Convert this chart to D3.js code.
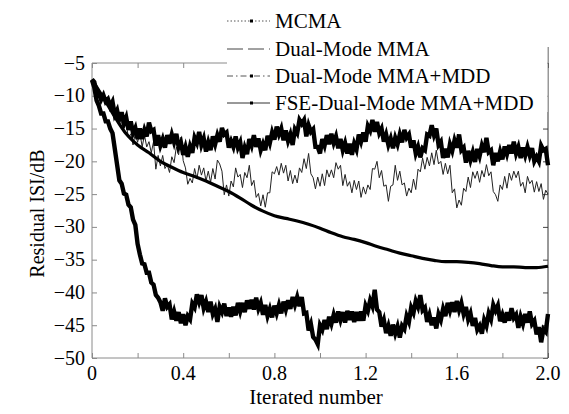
<!DOCTYPE html>
<html><head><meta charset="utf-8">
<script src="https://cdn.jsdelivr.net/npm/d3@7"></script>
<style>
body{margin:0;background:#fff}
svg{display:block}
</style>
</head><body>
<svg id="chart" width="569" height="414"></svg>
<script>
// ---------------- data ----------------
const seriesNames = ["MCMA", "Dual-Mode MMA", "Dual-Mode MMA+MDD", "FSE-Dual-Mode MMA+MDD"];
const xTicks = [0, 0.2, 0.4, 0.6, 0.8, 1.0, 1.2, 1.4, 1.6, 1.8, 2.0];
const xTickLabels = ["0", "", "0.4", "", "0.8", "", "1.2", "", "1.6", "", "2.0"];
const yTicks = [-50, -45, -40, -35, -30, -25, -20, -15, -10, -5];
const yTickLabels = ["\u221250", "\u221245", "\u221240", "\u221235", "\u221230", "\u221225", "\u221220", "\u221215", "\u221210", "\u22125"];
const xTitle = "Iterated number";
const yTitle = "Residual ISI/dB";
const denseStep = 0.01;   // iteration spacing of the noisy curves
const smoothStep = 0.05;  // iteration spacing of the smooth curve

const mcma = [
-7.5,-7.9,-9.6,-9.6,-10.6,-9.9,-10.9,-10.5,-11.6,-10.9,
-12.9,-12.2,-13.9,-12.5,-14.2,-13.3,-15.2,-13.9,-15.7,-14.9,
-16.6,-15.0,-16.6,-15.2,-16.2,-14.1,-15.4,-15.2,-17.6,-16.0,
-17.6,-16.6,-17.9,-16.0,-17.3,-15.9,-17.1,-15.8,-17.8,-17.1,
-19.0,-17.8,-19.3,-17.7,-18.7,-16.4,-17.2,-15.5,-17.5,-16.5,
-18.5,-17.1,-18.3,-16.2,-17.4,-16.0,-17.0,-14.9,-15.9,-15.6,
-17.9,-16.9,-17.8,-16.2,-17.9,-17.1,-19.5,-17.9,-18.9,-16.6,
-17.6,-16.0,-17.8,-16.5,-18.3,-17.3,-18.3,-16.1,-17.2,-15.6,
-16.7,-14.7,-15.9,-15.0,-16.8,-15.3,-16.9,-15.9,-17.5,-15.1,
-15.7,-13.7,-14.3,-13.7,-16.2,-14.5,-15.5,-15.1,-17.8,-17.8,
-18.8,-16.6,-17.6,-16.0,-17.4,-15.8,-17.2,-16.2,-18.0,-16.6,
-18.3,-17.2,-18.8,-17.3,-19.0,-17.3,-18.2,-15.9,-17.0,-15.6,
-17.0,-14.6,-15.3,-13.7,-15.5,-14.0,-15.7,-15.0,-17.0,-15.9,
-17.5,-16.5,-18.0,-16.4,-17.4,-15.9,-17.1,-15.2,-16.4,-15.9,
-17.9,-16.8,-18.8,-17.8,-19.4,-18.0,-18.3,-15.9,-16.1,-14.5,
-16.0,-15.0,-17.5,-17.0,-19.5,-18.1,-19.4,-17.4,-18.4,-16.8,
-17.9,-15.9,-18.3,-17.9,-20.2,-18.4,-19.8,-18.6,-20.1,-18.1,
-19.2,-17.6,-18.6,-16.4,-18.6,-18.3,-20.6,-18.7,-20.0,-18.5,
-19.7,-17.7,-18.9,-17.5,-18.8,-17.0,-18.8,-17.8,-19.5,-17.9,
-19.1,-17.8,-19.1,-18.0,-20.0,-19.3,-20.0,-17.6,-18.3,-18.1,
-20.6
];

const dualMMA = [
-7.8,-8.2,-9.2,-9.3,-10.2,-10.3,-11.1,-11.1,-11.8,-11.8,
-12.8,-13.0,-13.9,-14.1,-15.0,-14.3,-16.4,-15.8,-17.5,-15.7,
-17.1,-15.6,-17.8,-16.0,-17.8,-17.0,-18.7,-17.0,-21.2,-19.1,
-20.7,-19.1,-21.1,-20.5,-21.7,-19.3,-20.2,-17.8,-19.0,-16.3,
-19.9,-21.0,-23.5,-22.6,-23.3,-21.1,-22.7,-20.6,-22.1,-21.0,
-23.0,-21.5,-23.2,-21.1,-22.7,-19.8,-20.4,-21.5,-25.1,-23.6,
-25.3,-23.0,-23.9,-21.0,-22.4,-22.0,-24.0,-21.7,-22.5,-20.6,
-23.7,-22.9,-25.5,-24.9,-26.8,-25.1,-27.0,-24.8,-24.8,-21.6,
-21.9,-20.8,-22.1,-20.3,-21.8,-20.6,-23.0,-21.4,-23.4,-22.1,
-23.3,-21.0,-21.7,-19.6,-21.1,-18.8,-21.9,-22.5,-24.2,-22.4,
-23.8,-21.9,-23.7,-21.3,-22.4,-21.3,-22.5,-20.2,-21.2,-20.6,
-23.7,-22.0,-23.8,-23.1,-24.8,-22.9,-24.3,-23.0,-25.5,-23.9,
-25.0,-23.6,-24.3,-21.1,-21.2,-20.0,-22.5,-21.4,-23.8,-23.6,
-26.1,-23.8,-23.6,-20.6,-22.9,-21.5,-23.6,-23.3,-25.3,-24.1,
-24.8,-22.7,-24.3,-21.2,-21.6,-19.5,-21.2,-19.4,-20.7,-18.7,
-20.5,-18.3,-20.4,-20.0,-22.0,-20.3,-21.9,-20.6,-24.8,-24.2,
-27.1,-25.9,-26.7,-24.1,-24.6,-22.4,-24.0,-21.6,-22.6,-21.5,
-23.2,-21.4,-22.4,-20.5,-22.2,-21.6,-24.6,-25.1,-26.1,-23.6,
-24.3,-22.3,-24.1,-21.8,-22.9,-21.5,-22.5,-21.5,-23.8,-23.2,
-24.8,-22.3,-23.4,-22.9,-24.7,-23.1,-24.6,-23.4,-25.8,-24.4,
-25.0
];

const dualMMAMDD = [
-7.5,-10.3,-13.2,-15.8,-17.5,-18.7,-20.0,-20.9,-21.7,-22.3,
-23.0,-23.8,-24.6,-25.6,-26.7,-27.6,-28.3,-28.7,-29.1,-29.6,
-30.2,-30.9,-31.5,-31.9,-32.4,-33.0,-33.5,-34.0,-34.4,-34.8,
-35.1,-35.3,-35.3,-35.4,-35.6,-35.9,-36.1,-36.1,-36.2,-36.2,
-36.0
];

const fseDual = [
-7.6,-8.7,-10.7,-11.5,-12.7,-12.7,-13.9,-13.9,-15.0,-15.7,
-18.1,-20.5,-22.9,-23.4,-24.9,-25.1,-26.6,-27.0,-28.9,-29.7,
-32.6,-34.2,-35.6,-35.7,-37.0,-37.0,-38.5,-38.8,-40.4,-40.8,
-41.5,-42.8,-40.9,-42.2,-41.8,-44.1,-42.9,-44.3,-43.0,-44.7,
-43.3,-45.0,-43.6,-44.1,-41.7,-42.3,-40.3,-41.5,-40.4,-42.4,
-41.4,-43.0,-41.4,-43.3,-42.5,-44.5,-42.2,-43.0,-41.7,-43.6,
-42.3,-43.7,-42.2,-43.5,-41.6,-42.9,-41.6,-43.0,-41.2,-42.5,
-41.1,-42.6,-40.8,-42.5,-41.6,-43.4,-41.9,-43.6,-42.5,-43.8,
-42.0,-43.2,-41.9,-43.2,-41.4,-42.6,-41.2,-42.5,-40.7,-41.9,
-40.7,-42.1,-40.7,-43.2,-43.1,-45.8,-44.8,-46.8,-47.2,-47.9,
-45.0,-45.7,-44.2,-45.6,-43.7,-44.8,-43.4,-44.6,-42.9,-44.2,
-43.0,-44.6,-42.8,-44.2,-42.9,-44.5,-43.0,-44.3,-42.9,-44.3,
-42.0,-42.8,-41.2,-42.1,-39.6,-42.6,-43.0,-45.2,-44.2,-46.2,
-45.1,-46.6,-44.9,-46.3,-45.2,-46.9,-45.1,-45.6,-43.6,-44.5,
-42.3,-43.1,-41.3,-42.2,-40.4,-42.7,-42.3,-44.5,-43.4,-45.0,
-43.8,-45.5,-43.3,-44.2,-42.5,-43.6,-41.6,-42.8,-41.5,-43.0,
-41.3,-42.7,-41.6,-43.3,-42.2,-44.1,-43.2,-45.1,-43.9,-45.7,
-45.1,-46.3,-44.2,-45.1,-43.2,-44.1,-41.9,-42.8,-42.0,-44.4,
-43.4,-44.6,-43.0,-44.3,-42.4,-43.9,-43.4,-45.4,-43.7,-44.8,
-43.3,-44.6,-42.9,-44.8,-44.3,-46.4,-45.3,-47.6,-45.6,-46.0,
-43.3
];

// ---------------- chart ----------------
const FONT = "'Liberation Serif', Tinos, 'Times New Roman', Times, serif";
const svg = d3.select("#chart");
const W = 569, H = 414;
const m = {left: 92, right: 21, top: 63, bottom: 56};
const x = d3.scaleLinear().domain([0, 2]).range([m.left, W - m.right]);
const y = d3.scaleLinear().domain([-50, -5]).range([H - m.bottom, m.top]);
const axisGray = "#8a8a8a";
const tickLen = 5;

// frame axes with inward ticks
const gBottom = svg.append("g").attr("transform", `translate(0,${y(-50)})`)
  .call(d3.axisTop(x).tickValues(xTicks).tickSize(tickLen).tickFormat(""));
const gTop = svg.append("g").attr("transform", `translate(0,${y(-5)})`)
  .call(d3.axisBottom(x).tickValues(xTicks).tickSize(tickLen).tickFormat(""));
const gLeft = svg.append("g").attr("transform", `translate(${x(0)},0)`)
  .call(d3.axisRight(y).tickValues(yTicks).tickSize(tickLen).tickFormat(""));
const gRight = svg.append("g").attr("transform", `translate(${x(2)},0)`)
  .call(d3.axisLeft(y).tickValues(yTicks).tickSize(tickLen).tickFormat(""));
[gBottom, gTop, gLeft].forEach(g => g.selectAll(".tick line").attr("stroke", axisGray));
gRight.selectAll(".tick line").attr("stroke", "#444");
[gBottom, gTop, gLeft, gRight].forEach(g => g.select("path.domain").remove());
svg.append("line").attr("x1", x(0)).attr("x2", x(2)).attr("y1", y(-50)).attr("y2", y(-50)).attr("stroke", axisGray);
svg.append("line").attr("x1", x(0)).attr("x2", x(2)).attr("y1", y(-5)).attr("y2", y(-5)).attr("stroke", axisGray);
svg.append("line").attr("x1", x(0)).attr("x2", x(0)).attr("y1", y(-50)).attr("y2", y(-5)).attr("stroke", axisGray);
svg.append("line").attr("x1", x(2)).attr("x2", x(2)).attr("y1", y(-50)).attr("y2", y(-5) - 16).attr("stroke", "#333");

// tick labels
svg.append("g").selectAll("text").data(xTicks).join("text")
  .attr("x", d => x(d)).attr("y", y(-50) + 22)
  .attr("text-anchor", "middle").attr("font-size", 20).attr("font-family", FONT)
  .text((d, i) => xTickLabels[i]);
svg.append("g").selectAll("text").data(yTicks).join("text")
  .attr("x", x(0) - 7).attr("y", d => y(d) + 6.5)
  .attr("text-anchor", "end").attr("font-size", 20).attr("font-family", FONT)
  .text((d, i) => yTickLabels[i]);

// titles
svg.append("text").attr("x", (x(0) + x(2)) / 2 - 4).attr("y", H - 10)
  .attr("text-anchor", "middle").attr("font-size", 21).attr("font-family", FONT).text(xTitle);
svg.append("text").attr("transform", `translate(44,${(y(-5) + y(-50)) / 2 + 3}) rotate(-90)`)
  .attr("text-anchor", "middle").attr("font-size", 20).attr("font-family", FONT).text(yTitle);

// curves
const lineDense = d3.line().x((d, i) => x(i * denseStep)).y(d => y(d));
const lineSmooth = d3.line().x((d, i) => x(i * smoothStep)).y(d => y(d)).curve(d3.curveMonotoneX);
const plot = svg.append("g");
plot.append("path").datum(dualMMA).attr("d", lineDense)
  .attr("fill", "none").attr("stroke", "#222").attr("stroke-width", 1);
plot.append("path").datum(dualMMAMDD).attr("d", lineSmooth)
  .attr("fill", "none").attr("stroke", "#000").attr("stroke-width", 3.2);
plot.append("path").datum(mcma).attr("d", lineDense)
  .attr("fill", "none").attr("stroke", "#000").attr("stroke-width", 4.4).attr("stroke-linejoin", "miter");
plot.append("path").datum(fseDual).attr("d", lineDense)
  .attr("fill", "none").attr("stroke", "#000").attr("stroke-width", 4.4).attr("stroke-linejoin", "miter");

// legend
const lg = svg.append("g");
lg.append("rect").attr("x", 227).attr("y", 0).attr("width", x(2) - 227 - 0.5).attr("height", 112).attr("fill", "#fff");
const styles = [
  {dash: "1.5,2", marker: true, color: "#555"},
  {dash: "16,5", marker: false, color: "#444"},
  {dash: "6,3,1.5,3", marker: true, color: "#555"},
  {dash: null, marker: true, color: "#333"}
];
const rowBase = [28, 56, 83, 110];
seriesNames.forEach((name, i) => {
  const yy = rowBase[i] - 7;
  const l = lg.append("line").attr("x1", 227).attr("x2", 270).attr("y1", yy).attr("y2", yy)
    .attr("stroke", styles[i].color).attr("stroke-width", 1);
  if (styles[i].dash) l.attr("stroke-dasharray", styles[i].dash);
  if (styles[i].marker) lg.append("rect").attr("x", 250).attr("y", yy - 1.5).attr("width", 3).attr("height", 3).attr("fill", "#000");
  lg.append("text").attr("x", 275).attr("y", rowBase[i]).attr("font-size", 21).attr("font-family", FONT).text(name);
});
</script>
</body></html>
